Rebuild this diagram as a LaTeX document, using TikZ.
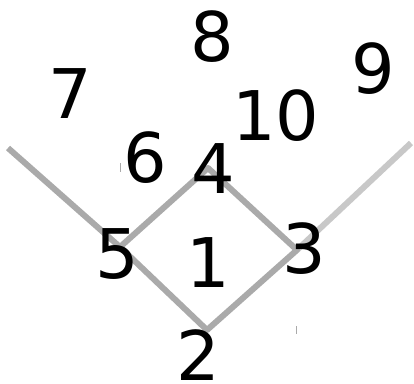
\documentclass[tikz,border=0pt]{standalone}
\usepackage{fontspec}
\setmainfont{DejaVu Sans}
\usetikzlibrary{positioning}
\definecolor{diamondgray}{HTML}{AAAAAA}
\definecolor{foulgray}{HTML}{C8C8C8}
\tikzset{
  num/.style={anchor=base,inner sep=0pt,font=\fontsize{68.5}{80}\selectfont},
  basepath/.style={draw=diamondgray,line width=6pt},
  foulline/.style={draw=foulgray,line width=6pt},
  tick/.style={draw=diamondgray,line width=0.8pt},
}
\begin{document}
\begin{tikzpicture}[x=1pt,y=-1pt]
  \useasboundingbox (0,0) rectangle (414,383);
  % bases and foul line ends
  \coordinate (home) at (207,330);
  \coordinate (first) at (297,250);
  \coordinate (second) at (208,168);
  \coordinate (third) at (120,247);
  \coordinate (lf) at (8,148);
  \coordinate (rf) at (411,143);
  \draw[foulline] (first) -- (rf);
  \draw[basepath] (lf) -- (third);
  \draw[basepath,line join=round] (home) -- (first) -- (second) -- (third) -- cycle;
  % small marks
  \draw[tick] (120,163) -- (120,172);
  \draw[tick] (296,326) -- (296,334);
  % positions
  \node[num] (p1) at (208,287) {1};
  \node[num] (p2) at (198,380) {2};
  \node[num] (p3) at (304,273) {3};
  \node[num] (p4) at (213,193) {4};
  \node[num] (p5) at (117,278) {5};
  \node[num] (p6) at (145,182) {6};
  \node[num] (p7) at (70,118) {7};
  \node[num] (p8) at (212,61) {8};
  \node[num] (p9) at (373,93) {9};
  \node[num] (p10) at (276,140) {10};
\end{tikzpicture}
\end{document}
